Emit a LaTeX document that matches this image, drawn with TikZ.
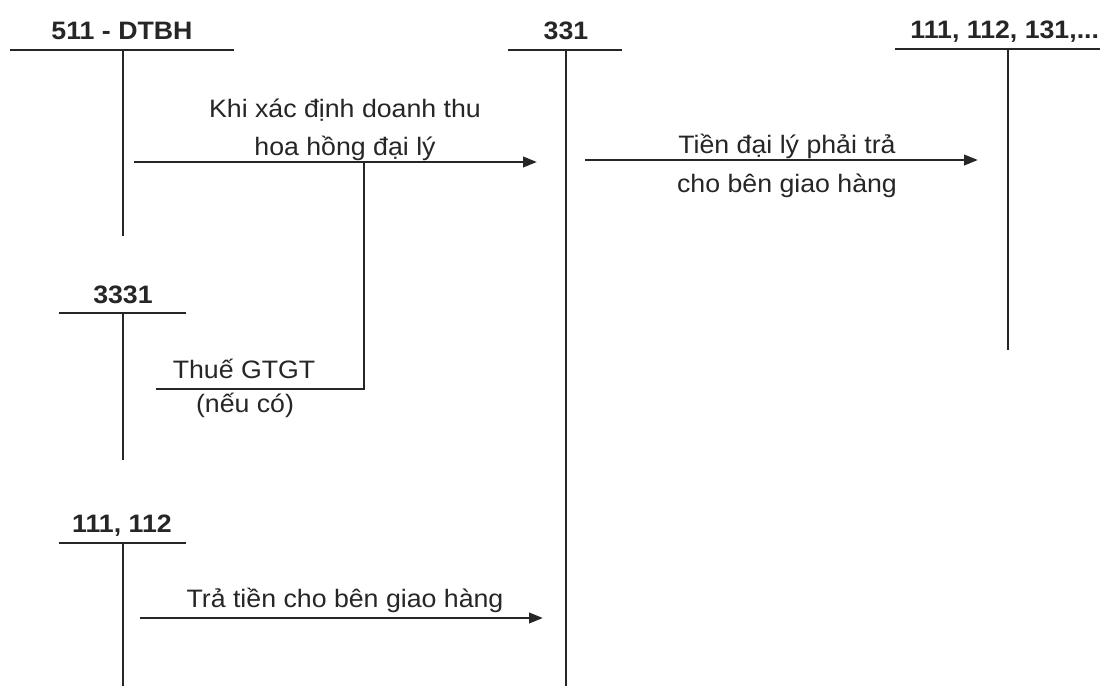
\documentclass[tikz,border=0pt]{standalone}
\usepackage{fontspec}
\setmainfont[FakeStretch=1.06]{Liberation Sans}
\usetikzlibrary{arrows.meta}
\tikzset{
  ln/.style={line width=1.3pt, black!85},
  arr/.style={ln, -{Triangle[length=7pt,width=5.2pt]}},
  acct/.style={font=\fontsize{12.6}{14}\selectfont\bfseries, anchor=base, inner sep=0pt, text=black!85},
  lbl/.style={font=\fontsize{12.6}{14}\selectfont, anchor=base, inner sep=0pt, text=black!85}
}
\begin{document}
\begin{tikzpicture}[x=0.5pt,y=-0.5pt]
\useasboundingbox[fill=white] (0,0) rectangle (1100,686);

% --- account 511
\node[acct] (t511) at (122,39) {511 - DTBH};
\coordinate (a511L) at (10,50);
\coordinate (a511R) at (234,50);
\coordinate (a511T) at (123,50);
\coordinate (a511B) at (123,236);
\draw[ln] (a511L) -- (a511R);
\draw[ln] (a511T) -- (a511B);

% --- account 331
\node[acct] (t331) at (566,39) {331};
\coordinate (a331L) at (508,50);
\coordinate (a331R) at (622,50);
\coordinate (a331T) at (566,50);
\coordinate (a331B) at (566,686);
\draw[ln] (a331L) -- (a331R);
\draw[ln] (a331T) -- (a331B);

% --- account 111, 112, 131,...
\node[acct, anchor=base west] (t111b) at (910,38) {111, 112, 131,...};
\coordinate (a111bL) at (895,49);
\coordinate (a111bR) at (1100,49);
\coordinate (a111bT) at (1008,49);
\coordinate (a111bB) at (1008,350);
\draw[ln] (a111bL) -- (a111bR);
\draw[ln] (a111bT) -- (a111bB);

% --- account 3331
\node[acct] (t3331) at (123,303) {3331};
\coordinate (a3331L) at (59,313);
\coordinate (a3331R) at (186,313);
\coordinate (a3331T) at (123,313);
\coordinate (a3331B) at (123,460);
\draw[ln] (a3331L) -- (a3331R);
\draw[ln] (a3331T) -- (a3331B);

% --- account 111, 112
\node[acct] (t111) at (122,532) {111, 112};
\coordinate (a111L) at (59,543);
\coordinate (a111R) at (186,543);
\coordinate (a111T) at (123,543);
\coordinate (a111B) at (123,686);
\draw[ln] (a111L) -- (a111R);
\draw[ln] (a111T) -- (a111B);

% --- entry 1 : 511 -> 331
\coordinate (e1s) at (134,162);
\coordinate (e1e) at (537,162);
\draw[arr] (e1s) -- (e1e);
\node[lbl] (l1a) at (345,117) {Khi xác định doanh thu};
\node[lbl] (l1b) at (345,155) {hoa hồng đại lý};

% --- VAT branch -> 3331
\coordinate (br) at (364,162);
\coordinate (brc) at (364,389);
\coordinate (bre) at (156,389);
\draw[ln] (br) -- (brc) -- (bre);
\node[lbl] (l2a) at (244,378) {Thuế GTGT};
\node[lbl] (l2b) at (245,412) {(nếu có)};

% --- entry 2 : 331 -> 111,112,131
\coordinate (e2s) at (585,160);
\coordinate (e2e) at (978,160);
\draw[arr] (e2s) -- (e2e);
\node[lbl] (l3a) at (787,153) {Tiền đại lý phải trả};
\node[lbl] (l3b) at (787,192) {cho bên giao hàng};

% --- entry 3 : 111,112 -> 331
\coordinate (e3s) at (140,618);
\coordinate (e3e) at (543,618);
\draw[arr] (e3s) -- (e3e);
\node[lbl] (l4) at (345,607) {Trả tiền cho bên giao hàng};
\end{tikzpicture}
\end{document}
